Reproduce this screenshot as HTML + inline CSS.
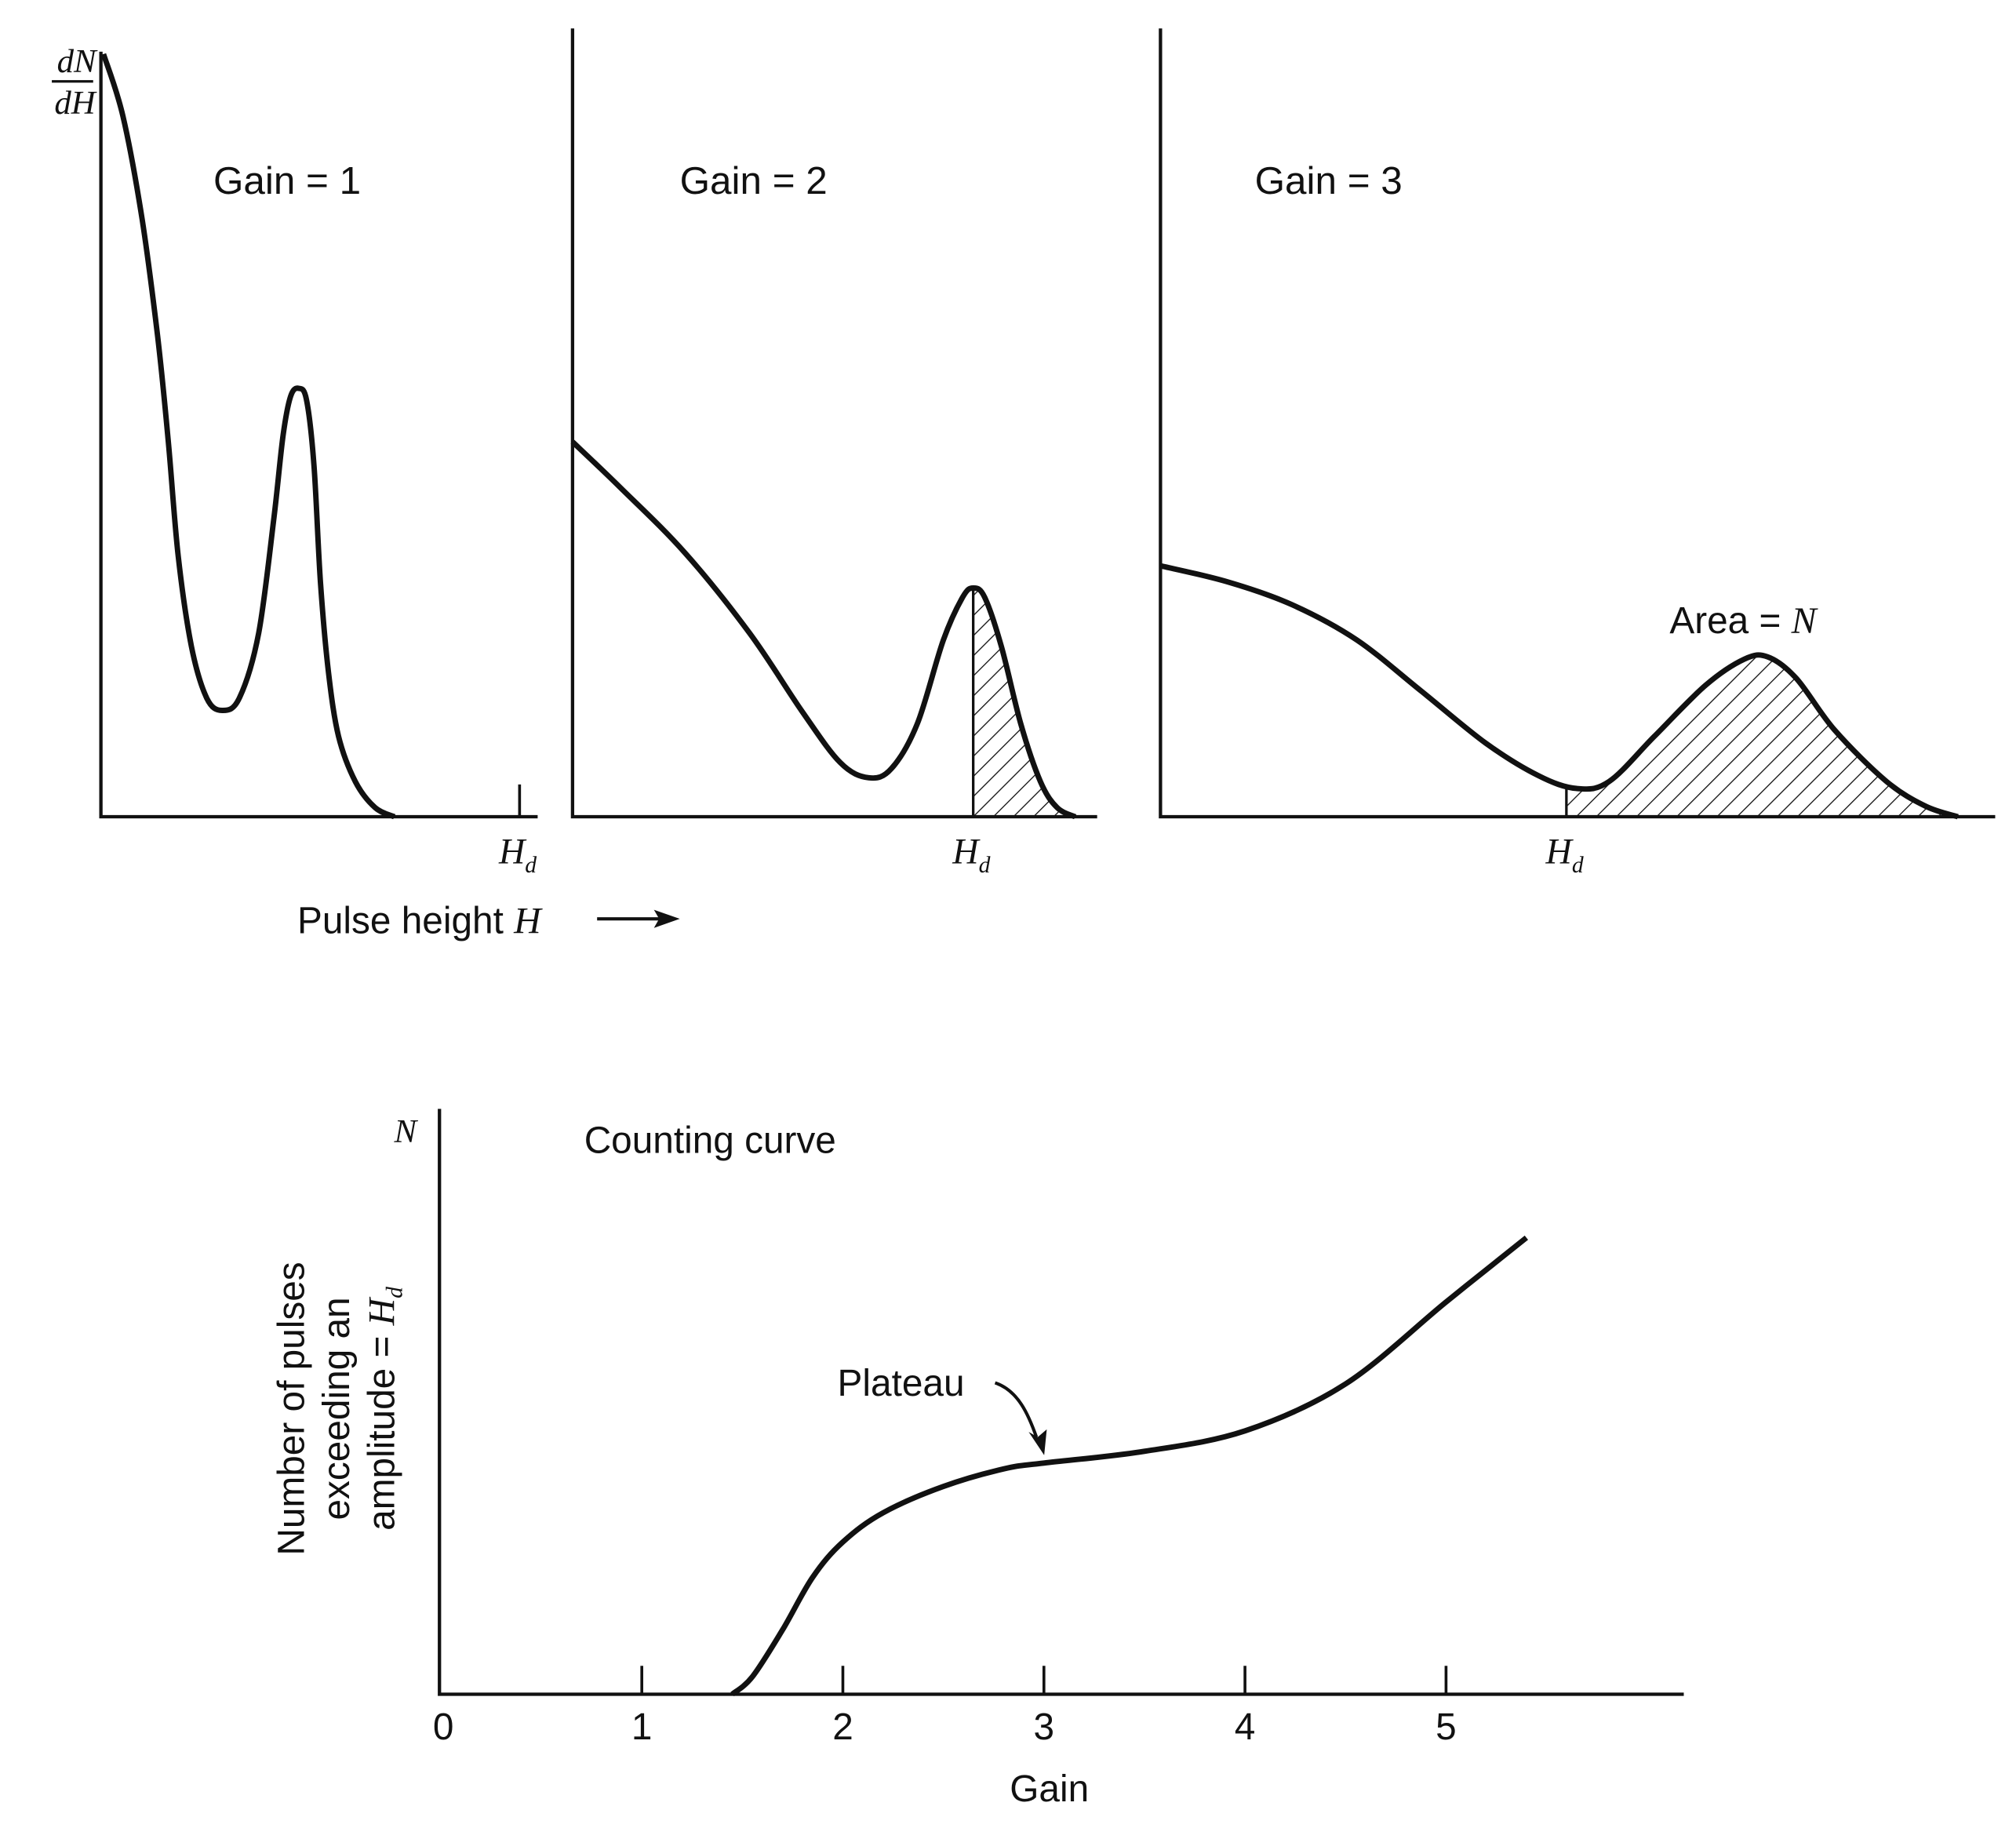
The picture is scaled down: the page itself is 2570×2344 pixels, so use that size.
<!DOCTYPE html>
<html><head><meta charset="utf-8">
<style>
html,body{margin:0;padding:0;background:#fff;}
svg{display:block;}
text{font-family:"Liberation Sans",sans-serif;fill:#111;}
.it{font-family:"Liberation Serif",serif;font-style:italic;}
</style></head>
<body>
<svg id="fig" width="2570" height="2344" viewBox="0 0 1560 1423" xmlns="http://www.w3.org/2000/svg">
<defs>
<pattern id="hatch" patternUnits="userSpaceOnUse" width="11" height="11" patternTransform="rotate(45)">
<line x1="0" y1="0" x2="0" y2="11" stroke="#111" stroke-width="1.6"/>
</pattern>
</defs>
<g id="layer"></g>
<text class="it" x="44" y="56" font-size="26">dN</text>
<line x1="40" y1="63" x2="72" y2="63" stroke="#111" stroke-width="2"/>
<text class="it" x="42" y="88" font-size="26">dH</text>
<text x="165" y="150" font-size="30">Gain = 1</text>
<text x="526" y="150" font-size="30">Gain = 2</text>
<text x="971" y="150" font-size="30">Gain = 3</text>
<text x="1292" y="490" font-size="29">Area = <tspan class="it">N</tspan></text>
<text x="230" y="722" font-size="29">Pulse height <tspan class="it">H</tspan></text>
<g>
<line x1="462" y1="711" x2="512" y2="711" stroke="#111" stroke-width="2.5"/>
<polygon points="526,711 506,704 510,711 506,718" fill="#111"/>
</g>
<text class="it" x="305" y="884" font-size="26">N</text>
<text x="452" y="892" font-size="29">Counting curve</text>
<text x="648" y="1080" font-size="29">Plateau</text>
<g>
<path d="M770,1070 C788,1076 796,1095 802,1112" fill="none" stroke="#111" stroke-width="2.5"/>
<polygon points="808,1126 796,1108 803,1112 810,1106" fill="#111"/>
</g>
<g transform="translate(0,1090) rotate(-90)">
<text x="0" y="235" font-size="29" text-anchor="middle">Number of pulses</text>
<text x="0" y="270" font-size="29" text-anchor="middle">exceeding an</text>
<text x="0" y="305" font-size="29" text-anchor="middle">amplitude = <tspan class="it">H<tspan font-size="18" dy="6">d</tspan></tspan></text>
</g>
<text x="812" y="1394" font-size="29" text-anchor="middle">Gain</text>
</svg>
<script>
// Panel 1 (Gain = 1)
const p1H = [0.06,0.5,0.94,1.29,1.53,1.76,2.06,2.41,2.76,3.15,3.59,3.94,4.15,4.32,4.5,4.68,4.85,5.0,5.18,5.41,5.79,6.24,6.68];
const p1Y = [9.97,9.16,7.8,6.28,4.93,3.41,2.23,1.55,1.39,1.55,2.4,3.92,5.0,5.5,5.6,5.45,4.59,3.04,1.89,1.05,0.46,0.12,0];
// Panel 2 (Gain = 2)
const p2H = [0,1.09,2.56,4.03,5.21,6.09,6.74,7.26,7.85,8.44,8.88,9.12,9.38,9.76,10.2,10.65,11.03,11.44];
const p2Y = [4.9,4.3,3.45,2.4,1.39,0.71,0.51,0.63,1.22,2.31,2.87,2.99,2.87,2.23,1.22,0.46,0.12,0];
// Panel 3 (Gain = 3)
const p3H = [0,1.53,3.0,4.47,5.94,7.41,8.59,9.47,10.21,11.24,12.41,13.29,13.82,14.47,15.35,16.53,17.41,18.15];
const p3Y = [3.28,3.07,2.77,2.31,1.64,0.96,0.54,0.37,0.46,1.05,1.72,2.06,2.09,1.81,1.13,0.46,0.14,0];
const hdValues = [9.5,9.12,9.24];
// Counting curve
const gainVals = [1.45,1.55,1.7,1.85,2.0,2.2,2.5,2.8,3.0,3.5,4.0,4.5,5.0,5.4];
const countVals = [0,0.3,1.1,2.0,2.6,3.1,3.55,3.85,3.95,4.15,4.5,5.3,6.7,7.8];
const gainTicks = [0,1,2,3,4,5];
const gainTickLabels = ["0","1","2","3","4","5"];

const NS="http://www.w3.org/2000/svg";
const layer=document.getElementById('layer');
function mk(tag,attrs){const e=document.createElementNS(NS,tag);for(const k in attrs)e.setAttribute(k,attrs[k]);layer.appendChild(e);return e;}
function spline(pts){
  let d='M'+pts[0][0].toFixed(1)+','+pts[0][1].toFixed(1);
  for(let i=0;i<pts.length-1;i++){
    const p0=pts[i-1]||pts[i],p1=pts[i],p2=pts[i+1],p3=pts[i+2]||p2;
    const c1=[p1[0]+(p2[0]-p0[0])/6,p1[1]+(p2[1]-p0[1])/6];
    const c2=[p2[0]-(p3[0]-p1[0])/6,p2[1]-(p3[1]-p1[1])/6];
    d+=' C'+c1[0].toFixed(1)+','+c1[1].toFixed(1)+' '+c2[0].toFixed(1)+','+c2[1].toFixed(1)+' '+p2[0].toFixed(1)+','+p2[1].toFixed(1);
  }
  return d;
}
const base=632, kx=34, ky=59.2;
const panels=[
  {ax:78,top:40,right:416,H:p1H,Y:p1Y,hatch:false,tick:true,name:'gain-1'},
  {ax:443,top:22,right:849,H:p2H,Y:p2Y,hatch:true,tick:false,name:'gain-2'},
  {ax:898,top:22,right:1544,H:p3H,Y:p3Y,hatch:true,tick:false,name:'gain-3'}
];
panels.forEach((p,i)=>{
  const sx=h=>p.ax+h*kx, sy=v=>base-v*ky;
  const pts=p.H.map((h,j)=>[sx(h),sy(p.Y[j])]);
  const d=spline(pts);
  const hd=hdValues[i];
  if(p.hatch){
    const cp=document.createElementNS(NS,'clipPath');cp.setAttribute('id','clip'+i);
    const cr=document.createElementNS(NS,'rect');cr.setAttribute('x',sx(hd));cr.setAttribute('y',0);cr.setAttribute('width',2000);cr.setAttribute('height',base);
    cp.appendChild(cr);document.querySelector('defs').appendChild(cp);
    const area=mk('path',{d:d+' L'+pts[pts.length-1][0]+','+base+' L'+pts[0][0]+','+base+' Z',fill:'url(#hatch)','clip-path':'url(#clip'+i+')'});
    
    
    let yv=base;
    for(let j=0;j<p.H.length-1;j++){if(hd>=p.H[j]&&hd<=p.H[j+1]){const t=(hd-p.H[j])/(p.H[j+1]-p.H[j]);yv=sy(p.Y[j]+t*(p.Y[j+1]-p.Y[j]));}}
    const vl=mk('line',{x1:sx(hd),y1:base,x2:sx(hd),y2:yv,stroke:'#111','stroke-width':2});
    
    
  }
  const axes=mk('path',{d:'M'+p.ax+','+p.top+' L'+p.ax+','+base+' L'+p.right+','+base,fill:'none',stroke:'#111','stroke-width':2.6});
  
  
  const c=mk('path',{d:d,fill:'none',stroke:'#111','stroke-width':4.2,'stroke-linejoin':'round'});
  
  
  if(p.tick){
    const tk=mk('line',{x1:sx(hd)+1,y1:base,x2:sx(hd)+1,y2:base-25,stroke:'#111','stroke-width':2.2});
    
    
  }
  const lbl=mk('text',{x:sx(hd)+(p.tick?1:0)-16,y:668,'font-size':28,class:'it'});
  
  
  lbl.textContent='H';
  const sub=document.createElementNS(NS,'tspan');sub.setAttribute('font-size','18');sub.setAttribute('dy','7');sub.textContent='d';lbl.appendChild(sub);
});
const cx0=341, cpx=155.6, cbase=1311, cky=45.3;
const gx=g=>cx0+g*cpx, gy=v=>cbase-v*cky;
const ax2=mk('path',{d:'M340,858 L340,'+cbase+' L1303,'+cbase,fill:'none',stroke:'#111','stroke-width':2.6});


gainTicks.forEach((g,i)=>{
  if(g>0){
    const t=mk('line',{x1:gx(g),y1:cbase,x2:gx(g),y2:cbase-22,stroke:'#111','stroke-width':2.2});
    
    
  }
  const tl=mk('text',{x:gx(g)+(g==0?2:0),y:1346,'font-size':29,'text-anchor':'middle'});
  
  
  tl.textContent=gainTickLabels[i];
});
const cc=mk('path',{d:spline(gainVals.map((g,i)=>[gx(g),gy(countVals[i])])),fill:'none',stroke:'#111','stroke-width':4.2});


</script>
</body></html>
